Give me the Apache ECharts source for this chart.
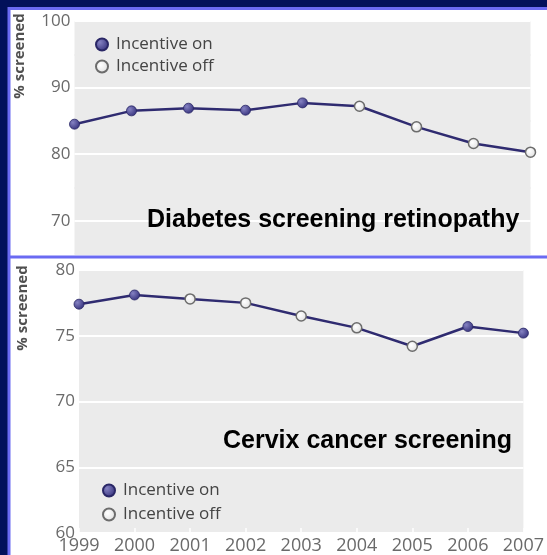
<!DOCTYPE html>
<html>
<head>
<meta charset="utf-8">
<script src="https://cdn.jsdelivr.net/npm/echarts@6/dist/echarts.min.js"></script>
<style>
html,body{margin:0;padding:0;background:#02115a;}
#chart{width:547px;height:555px;}
</style>
</head>
<body>
<div id="chart"></div>
<script>
// ---- data ----
const years = ['1999','2000','2001','2002','2003','2004','2005','2006','2007'];
const diabetesValues = [84.5, 86.5, 86.9, 86.6, 87.7, 87.2, 84.1, 81.6, 80.3];
const diabetesIncentiveOn = [true, true, true, true, true, false, false, false, false];
const cervixValues = [77.4, 78.1, 77.8, 77.5, 76.5, 75.6, 74.2, 75.7, 75.2];
const cervixIncentiveOn = [true, true, false, false, false, false, false, true, true];
const diabetesTickLabels = [70, 80, 90, 100];
const cervixTickLabels = [60, 65, 70, 75, 80];
const legendNames = ['Incentive on', 'Incentive off'];
const titles = ['Diabetes screening retinopathy', 'Cervix cancer screening'];
const yName = '% screened';

// ---- styles ----
const lineColor = '#2f2b70';
const onFill = {type:'radial', x:0.35, y:0.35, r:0.7, colorStops:[{offset:0,color:'#8582c2'},{offset:1,color:'#35317c'}]};
const offFill = {type:'radial', x:0.4, y:0.4, r:0.7, colorStops:[{offset:0,color:'#ffffff'},{offset:1,color:'#dcdcdc'}]};
const labelColor = '#6a6a6a';
const font = '"Open Sans", sans-serif';

function pick(values, flags, want) {
  return values.map((v, i) => flags[i] === want ? v : '-');
}

const chart = echarts.init(document.getElementById('chart'), null, {renderer: 'canvas'});

const option = {
  backgroundColor: '#02115a',
  animation: false,
  graphic: [
    {type:'rect', z:-10, shape:{x:9, y:8.5, width:560, height:560}, style:{fill:'#ffffff', stroke:'#6a6af2', lineWidth:3}},
    {type:'line', z:50, shape:{x1:9, y1:257, x2:547, y2:257}, style:{stroke:'#6a6af2', lineWidth:3}},
    {type:'text', z:50, x:20, y:56, rotation:Math.PI/2, style:{text:yName, font:'bold 15px ' + font, fill:'#505050', align:'center', verticalAlign:'middle'}},
    {type:'text', z:50, x:23, y:308, rotation:Math.PI/2, style:{text:yName, font:'bold 15px ' + font, fill:'#505050', align:'center', verticalAlign:'middle'}}
  ],
  title: [
    {text: titles[0], left: 147, top: 208, padding: 0, textStyle:{fontFamily:'"Liberation Sans", Arial, sans-serif', fontSize:25, fontWeight:'bold', color:'#000'}},
    {text: titles[1], left: 223, top: 429, padding: 0, textStyle:{fontFamily:'"Liberation Sans", Arial, sans-serif', fontSize:25, fontWeight:'bold', color:'#000'}}
  ],
  legend: [
    {data: legendNames, orient:'vertical', left:90, top:31, itemWidth:12, itemHeight:12, itemGap:5,
     textStyle:{fontFamily:font, fontSize:17, color:'#444', padding:[0,0,0,3]}},
    {data: legendNames, orient:'vertical', left:97, top:477, itemWidth:12, itemHeight:12, itemGap:7,
     textStyle:{fontFamily:font, fontSize:17, color:'#444', padding:[0,0,0,3]}}
  ],
  grid: [
    {left:74.5, width:456, top:21, height:233, show:true, backgroundColor:'#ebebeb', borderWidth:0},
    {left:79, width:449, top:270, height:264, show:true, backgroundColor:'#ebebeb', borderWidth:0}
  ],
  xAxis: [
    {gridIndex:0, type:'category', data:years, boundaryGap:false,
     axisLine:{show:false}, axisTick:{show:false}, axisLabel:{show:false}, splitLine:{show:false}},
    {gridIndex:1, type:'category', data:years, boundaryGap:false,
     axisLine:{show:false},
     axisTick:{show:true, inside:true, length:5, interval:0, lineStyle:{color:'#ffffff', width:1.5}},
     axisLabel:{color:labelColor, fontFamily:font, fontSize:18, margin:4, interval:0, hideOverlap:false},
     splitLine:{show:false}}
  ],
  yAxis: [
    {gridIndex:0, type:'value', min:65, max:100, interval:5,
     axisLine:{show:false}, axisTick:{show:false},
     axisLabel:{color:labelColor, fontFamily:font, fontSize:17, margin:4,
       formatter: v => diabetesTickLabels.indexOf(v) >= 0 ? String(v) : ''},
     splitLine:{show:true, lineStyle:{color:['#ebebeb','#ffffff'], width:2}}},
    {gridIndex:1, type:'value', min:60, max:80, interval:5,
     axisLine:{show:false}, axisTick:{show:false},
     axisLabel:{color:labelColor, fontFamily:font, fontSize:17, margin:4,
       formatter: v => cervixTickLabels.indexOf(v) >= 0 ? String(v) : ''},
     splitLine:{show:true, lineStyle:{color:'#ffffff', width:2}}}
  ],
  series: [
    {type:'line', xAxisIndex:0, yAxisIndex:0, data:diabetesValues, showSymbol:false, symbol:'none',
     lineStyle:{color:lineColor, width:2.5}, z:2},
    {name:legendNames[0], type:'scatter', xAxisIndex:0, yAxisIndex:0, data:pick(diabetesValues, diabetesIncentiveOn, true),
     symbolSize:10, itemStyle:{color:onFill, borderColor:'#2a2766', borderWidth:0.8, opacity:1}, z:3},
    {name:legendNames[1], type:'scatter', xAxisIndex:0, yAxisIndex:0, data:pick(diabetesValues, diabetesIncentiveOn, false),
     symbolSize:10, itemStyle:{color:offFill, borderColor:'#6c6c6c', borderWidth:1.5, opacity:1}, z:3},
    {type:'line', xAxisIndex:1, yAxisIndex:1, data:cervixValues, showSymbol:false, symbol:'none',
     lineStyle:{color:lineColor, width:2.5}, z:2},
    {name:legendNames[0], type:'scatter', xAxisIndex:1, yAxisIndex:1, data:pick(cervixValues, cervixIncentiveOn, true),
     symbolSize:10, itemStyle:{color:onFill, borderColor:'#2a2766', borderWidth:0.8, opacity:1}, z:3},
    {name:legendNames[1], type:'scatter', xAxisIndex:1, yAxisIndex:1, data:pick(cervixValues, cervixIncentiveOn, false),
     symbolSize:10, itemStyle:{color:offFill, borderColor:'#6c6c6c', borderWidth:1.5, opacity:1}, z:3}
  ]
};
chart.setOption(option);
</script>
</body>
</html>
